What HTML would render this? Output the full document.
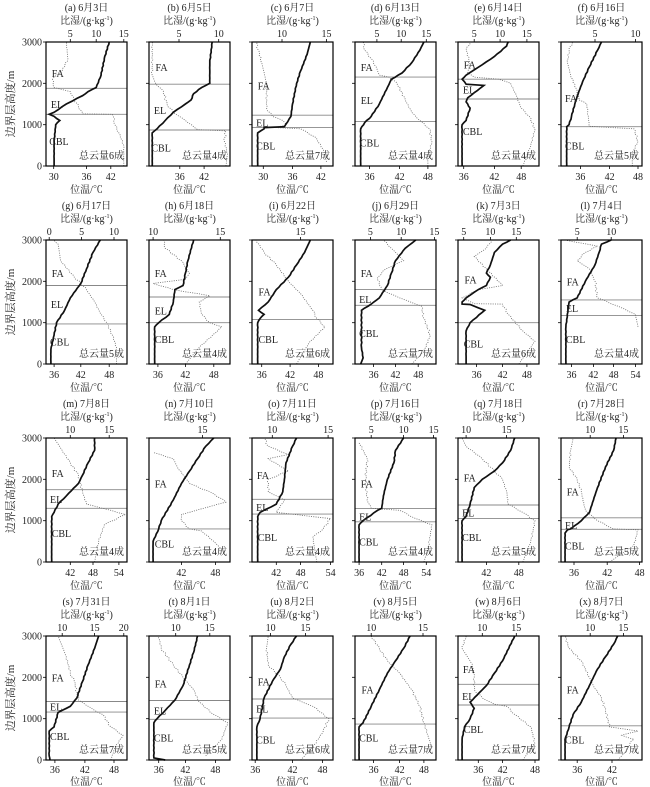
<!DOCTYPE html>
<html><head><meta charset="utf-8">
<style>
html,body{margin:0;padding:0;background:#fff;}
svg{display:block;}
text{font-family:"Liberation Serif","Noto Serif CJK SC",serif;fill:#222;}
</style></head>
<body>
<svg id="s" width="650" height="787" viewBox="0 0 650 787" xmlns="http://www.w3.org/2000/svg"></svg>
<script>
const P=[
{t:'(a) 6月3日',bt:[[0.095,30],[0.5,36],[0.8,42]],tt:[[0.3,5],[0.62,10],[0.96,15]],
th:[[0.1,0],[0.1,600],[0.12,1000],[0.17,1100],[0.1,1200],[0.04,1250],[0.1,1300],[0.25,1500],[0.45,1700],[0.52,1800],[0.62,1900],[0.68,2200],[0.72,2600],[0.78,3000]],
q:[[0.96,0],[0.96,500],[0.9,800],[0.85,1000],[0.83,1200],[0.82,1250],[0.45,1260],[0.4,1450],[0.35,1600],[0.3,1800],[0.1,1900],[0.08,2100],[0.2,2300],[0.27,2600],[0.25,3000]],
hl:[1880,1250],lb:[['FA',0.07,2250],['EL',0.06,1500],['CBL',0.04,600]],c:6},
{t:'(b) 6月5日',bt:[[0.38,36],[0.68,42]],tt:[[0.37,5],[0.86,10]],
th:[[0.04,0],[0.04,800],[0.1,900],[0.2,1100],[0.3,1300],[0.45,1500],[0.52,1600],[0.55,1750],[0.65,1900],[0.75,2000],[0.75,2500],[0.78,3000]],
q:[[0.95,0],[0.97,300],[0.93,600],[0.95,850],[0.6,880],[0.45,1100],[0.3,1300],[0.22,1500],[0.18,1800],[0.08,2000],[0.04,2200],[0.04,3000]],
hl:[1980,870],lb:[['FA',0.08,2400],['EL',0.06,1350],['CBL',0.03,450]],c:4},
{t:'(c) 6月7日',bt:[[0.14,30],[0.5,36],[0.85,42]],tt:[[0.37,10],[0.92,15]],
th:[[0.07,0],[0.07,800],[0.15,900],[0.15,930],[0.4,950],[0.48,1200],[0.5,1500],[0.55,2000],[0.6,2300],[0.68,2700],[0.72,3000]],
q:[[0.92,100],[0.88,400],[0.78,700],[0.6,900],[0.3,930],[0.42,1000],[0.38,1100],[0.25,1200],[0.18,1400],[0.18,2000],[0.12,2500],[0.08,2800],[0.05,3000]],
hl:[1230,930],lb:[['FA',0.07,1950],['EL',0.05,1050],['CBL',0.05,500]],c:7},
{t:'(d) 6月13日',bt:[[0.18,36],[0.55,42],[0.9,48]],tt:[[0.27,5],[0.57,10],[0.88,15]],
th:[[0.07,0],[0.07,900],[0.12,1050],[0.2,1200],[0.3,1500],[0.4,1900],[0.45,2100],[0.58,2250],[0.7,2500],[0.8,2800],[0.85,3000]],
q:[[0.9,0],[0.9,200],[0.95,600],[0.92,900],[0.8,1100],[0.7,1300],[0.62,1600],[0.52,2000],[0.42,2150],[0.3,2200],[0.26,2400],[0.2,2600],[0.12,2800],[0.1,3000]],
hl:[2150,1080],lb:[['FA',0.07,2400],['EL',0.07,1600],['CBL',0.06,570]],c:4},
{t:'(e) 6月14日',bt:[[0.07,36],[0.45,42],[0.78,48]],tt:[[0.2,5],[0.52,10],[0.85,15]],
th:[[0.05,0],[0.05,1000],[0.1,1100],[0.15,1400],[0.1,1550],[0.12,1650],[0.32,1950],[0.1,1980],[0.05,2100],[0.1,2200],[0.3,2450],[0.45,2650],[0.6,2900],[0.62,3000]],
q:[[0.8,0],[0.9,500],[0.95,900],[0.88,1200],[0.78,1400],[0.72,1700],[0.65,2000],[0.5,2100],[0.2,2150],[0.12,2250],[0.15,2500],[0.1,2800],[0.15,3000]],
hl:[2100,1620],lb:[['FA',0.07,2450],['EL',0.06,1850],['CBL',0.06,850]],c:4},
{t:'(f) 6月16日',bt:[[0.24,36],[0.6,42],[0.95,48]],tt:[[0.42,5],[0.92,10]],
th:[[0.07,0],[0.07,950],[0.1,1000],[0.13,1200],[0.17,1500],[0.22,1800],[0.28,2100],[0.35,2400],[0.45,2800],[0.5,3000]],
q:[[0.88,0],[0.88,300],[0.95,600],[0.9,900],[0.35,960],[0.33,1300],[0.32,1500],[0.22,1600],[0.2,1800],[0.12,2200],[0.08,2500],[0.1,2800],[0.14,3000]],
hl:[950],lb:[['FA',0.05,1650],['CBL',0.05,500]],c:5},
{t:'(g) 6月17日',bt:[[0.1,36],[0.43,42],[0.78,48]],tt:[[0.04,0],[0.44,5],[0.84,10]],
th:[[0.06,0],[0.06,350],[0.1,700],[0.13,1000],[0.23,1300],[0.3,1600],[0.43,1950],[0.5,2300],[0.58,2700],[0.67,3000]],
q:[[0.87,0],[0.87,400],[0.82,700],[0.75,1000],[0.68,1200],[0.6,1500],[0.5,1800],[0.43,1950],[0.35,2100],[0.18,2500],[0.15,2900],[0.1,3000]],
hl:[1900,970],lb:[['FA',0.07,2200],['EL',0.06,1450],['CBL',0.05,550]],c:5},
{t:'(h) 6月18日',bt:[[0.11,36],[0.45,42],[0.8,48]],tt:[[0.05,10],[0.88,15]],
th:[[0.07,0],[0.07,900],[0.12,1000],[0.25,1200],[0.3,1500],[0.32,1800],[0.42,1900],[0.45,2200],[0.48,2500],[0.55,3000]],
q:[[0.45,0],[0.62,400],[0.9,900],[0.75,1000],[0.65,1200],[0.62,1500],[0.75,1650],[0.3,1800],[0.05,1950],[0.45,2050],[0.5,2200],[0.4,2500],[0.2,2800],[0.18,3000]],
hl:[1620,1000],lb:[['FA',0.07,2200],['EL',0.07,1300],['CBL',0.07,600]],c:4},
{t:'(i) 6月22日',bt:[[0.12,36],[0.47,42],[0.82,48]],tt:[[0.6,15]],
th:[[0.07,0],[0.07,1000],[0.1,1100],[0.15,1200],[0.08,1300],[0.2,1500],[0.3,1800],[0.45,2100],[0.55,2400],[0.65,2700],[0.72,3000]],
q:[[0.55,0],[0.7,500],[0.9,900],[0.8,1100],[0.75,1300],[0.6,1700],[0.45,2000],[0.3,2400],[0.15,2700],[0.05,3000]],
hl:[1080],lb:[['FA',0.08,1750],['CBL',0.08,600]],c:6},
{t:'(j) 6月29日',bt:[[0.23,36],[0.5,42],[0.78,48]],tt:[[0.19,5],[0.57,10],[0.98,15]],
th:[[0.07,0],[0.1,150],[0.08,400],[0.08,1300],[0.2,1450],[0.3,1600],[0.4,1900],[0.45,2200],[0.5,2500],[0.62,2800],[0.75,3000]],
q:[[0.7,0],[0.85,300],[0.93,700],[0.85,1100],[0.82,1400],[0.55,1600],[0.32,1800],[0.28,2100],[0.38,2300],[0.6,2500],[0.45,2800],[0.35,3000]],
hl:[1800,1420],lb:[['FA',0.07,2200],['EL',0.05,1570],['CBL',0.05,750]],c:7},
{t:'(k) 7月3日',bt:[[0.23,36],[0.55,42],[0.85,48]],tt:[[0.07,5],[0.4,10],[0.72,15]],
th:[[0.1,0],[0.1,800],[0.15,1000],[0.3,1250],[0.33,1300],[0.15,1440],[0.05,1450],[0.05,1500],[0.1,1600],[0.25,1800],[0.35,1900],[0.4,2100],[0.35,2200],[0.4,2400],[0.45,2700],[0.55,2900],[0.65,3000]],
q:[[0.75,0],[0.95,550],[0.8,800],[0.62,1200],[0.55,1450],[0.2,1460],[0.05,1600],[0.25,1800],[0.55,1900],[0.2,2600],[0.35,2800],[0.42,3000]],
hl:[1000],lb:[['FA',0.08,2050],['CBL',0.07,500]],c:6},
{t:'(l) 7月4日',bt:[[0.13,36],[0.4,42],[0.65,48],[0.92,54]],tt:[[0.2,5],[0.62,10]],
th:[[0.06,0],[0.06,900],[0.1,1500],[0.2,1600],[0.3,2000],[0.42,2400],[0.47,2700],[0.5,2900],[0.62,3000]],
q:[[0.95,900],[0.92,1200],[0.7,1400],[0.45,1600],[0.42,2000],[0.35,2300],[0.2,2500],[0.3,2700],[0.45,2850],[0.05,3000]],
hl:[1550,1170],lb:[['FA',0.07,2000],['EL',0.06,1350],['CBL',0.06,600]],c:4},
{t:'(m) 7月8日',bt:[[0.3,42],[0.58,48],[0.9,54]],tt:[[0.3,10],[0.78,15]],
th:[[0.07,0],[0.07,1100],[0.1,1200],[0.15,1400],[0.25,1600],[0.4,1900],[0.45,2100],[0.52,2400],[0.6,2700],[0.6,3000]],
q:[[0.6,0],[0.65,500],[0.72,900],[0.98,1150],[0.8,1250],[0.5,1400],[0.45,1700],[0.4,2100],[0.3,2400],[0.2,2700],[0.1,3000]],
hl:[1750,1300],lb:[['FA',0.07,2150],['EL',0.05,1520],['CBL',0.07,700]],c:4},
{t:'(n) 7月10日',bt:[[0.4,42],[0.82,48]],tt:[[0.66,15]],
th:[[0.05,0],[0.05,500],[0.12,800],[0.15,1000],[0.3,1500],[0.4,1900],[0.5,2200],[0.6,2500],[0.7,2800],[0.8,3000]],
q:[[0.9,300],[0.8,500],[0.65,750],[0.5,800],[0.4,1000],[0.4,1150],[0.95,1450],[0.8,1650],[0.5,1900],[0.35,2300],[0.3,2500],[0.05,2650]],
hl:[800],lb:[['FA',0.07,1900],['CBL',0.07,450]],c:4},
{t:'(o) 7月11日',bt:[[0.3,42],[0.6,48],[0.97,54]],tt:[[0.25,10],[0.94,15]],
th:[[0.07,0],[0.07,1100],[0.1,1200],[0.3,1400],[0.38,1700],[0.4,2000],[0.42,2400],[0.5,2800],[0.55,3000]],
q:[[0.8,0],[0.75,600],[0.88,800],[0.97,1050],[0.3,1200],[0.4,1500],[0.2,1700],[0.2,2000],[0.45,2200],[0.2,2500],[0.45,2600],[0.2,2800],[0.15,3000]],
hl:[1516,1160],lb:[['FA',0.06,2100],['EL',0.05,1330],['CBL',0.07,600]],c:4},
{t:'(p) 7月16日',bt:[[0.05,36],[0.33,42],[0.6,48],[0.88,54]],tt:[[0.2,5],[0.6,10],[0.97,15]],
th:[[0.05,0],[0.05,900],[0.1,1000],[0.28,1250],[0.33,1300],[0.35,1600],[0.4,2000],[0.48,2400],[0.5,2700],[0.6,3000]],
q:[[0.85,0],[0.9,300],[0.95,900],[0.75,1050],[0.55,1250],[0.2,1300],[0.15,1500],[0.13,2000],[0.15,2500],[0.05,2900]],
hl:[1297,973],lb:[['FA',0.07,1900],['EL',0.05,1100],['CBL',0.05,500]],c:4},
{t:'(q) 7月18日',bt:[[0.35,42],[0.75,48]],tt:[[0.1,10],[0.6,15]],
th:[[0.05,0],[0.05,1000],[0.1,1100],[0.15,1400],[0.2,1800],[0.3,2000],[0.45,2200],[0.55,2400],[0.65,2700],[0.7,3000]],
q:[[0.8,0],[0.9,500],[0.95,1000],[0.8,1200],[0.62,1400],[0.6,1700],[0.55,2000],[0.45,2200],[0.3,2500],[0.1,2800],[0.05,3000]],
hl:[1378,1054],lb:[['FA',0.07,2050],['EL',0.05,1200],['CBL',0.05,600]],c:5},
{t:'(r) 7月28日',bt:[[0.16,36],[0.57,42],[0.97,48]],tt:[[0.36,10],[0.77,15]],
th:[[0.05,0],[0.05,700],[0.08,780],[0.12,800],[0.25,1000],[0.35,1200],[0.45,1800],[0.55,2300],[0.65,2700],[0.68,3000]],
q:[[0.6,0],[0.9,400],[0.95,780],[0.65,800],[0.45,1000],[0.3,1250],[0.25,1700],[0.2,2000],[0.1,2300],[0.12,2700],[0.15,3000]],
hl:[1070,790],lb:[['FA',0.07,1700],['EL',0.05,900],['CBL',0.05,400]],c:5},
{t:'(s) 7月31日',bt:[[0.11,36],[0.48,42],[0.84,48]],tt:[[0.2,10],[0.6,15],[0.96,20]],
th:[[0.05,0],[0.04,100],[0.04,700],[0.1,800],[0.15,1150],[0.3,1300],[0.38,1500],[0.45,1900],[0.52,2300],[0.6,2700],[0.65,3000]],
q:[[0.8,0],[0.85,300],[0.95,600],[0.8,800],[0.7,1100],[0.6,1200],[0.4,1450],[0.35,1900],[0.3,2100],[0.25,2500],[0.15,3000]],
hl:[1416,1160],lb:[['FA',0.07,2000],['EL',0.05,1300],['CBL',0.05,580]],c:7},
{t:'(t) 8月1日',bt:[[0.12,36],[0.45,42],[0.82,48]],tt:[[0.33,10],[0.75,15]],
th:[[0.2,0],[0.06,50],[0.06,900],[0.1,1000],[0.2,1200],[0.32,1450],[0.42,1800],[0.5,2300],[0.55,2600],[0.6,3000]],
q:[[0.7,100],[0.9,500],[0.97,900],[0.8,1100],[0.62,1400],[0.55,1700],[0.42,2000],[0.3,2300],[0.15,2700],[0.12,3000]],
hl:[1440,985],lb:[['FA',0.07,1850],['EL',0.06,1200],['CBL',0.06,550]],c:5},
{t:'(u) 8月2日',bt:[[0.04,36],[0.5,42],[0.87,48]],tt:[[0.23,10],[0.66,15]],
th:[[0.06,0],[0.06,800],[0.1,1000],[0.15,1500],[0.25,1900],[0.35,2200],[0.4,2500],[0.48,2800],[0.55,3000]],
q:[[0.6,0],[0.75,300],[0.88,700],[0.95,1000],[0.75,1300],[0.5,1500],[0.42,1800],[0.35,2000],[0.2,2300],[0.18,2700],[0.2,3000]],
hl:[1476,1014],lb:[['FA',0.07,1900],['EL',0.05,1250],['CBL',0.05,500]],c:6},
{t:'(v) 8月5日',bt:[[0.23,36],[0.55,42],[0.85,48]],tt:[[0.2,10],[0.84,15]],
th:[[0.05,0],[0.05,800],[0.1,900],[0.2,1300],[0.3,1700],[0.4,2100],[0.5,2400],[0.6,2700],[0.68,3000]],
q:[[0.95,300],[0.9,600],[0.85,900],[0.8,1300],[0.7,1700],[0.55,2100],[0.4,2400],[0.3,2700],[0.2,3000]],
hl:[868],lb:[['FA',0.08,1700],['CBL',0.05,550]],c:7},
{t:'(w) 8月6日',bt:[[0.25,36],[0.55,42],[0.95,48]],tt:[[0.3,10],[0.72,15]],
th:[[0.05,0],[0.05,500],[0.08,800],[0.15,1000],[0.2,1250],[0.15,1400],[0.35,1800],[0.45,2100],[0.55,2400],[0.7,3000]],
q:[[0.8,0],[0.95,400],[0.9,800],[0.7,1100],[0.6,1300],[0.45,1350],[0.3,1500],[0.2,1700],[0.2,2000],[0.18,2300],[0.05,2700],[0.1,3000]],
hl:[1832,1330],lb:[['FA',0.06,2200],['EL',0.05,1550],['CBL',0.07,750]],c:7},
{t:'(x) 8月7日',bt:[[0.2,36],[0.63,42]],tt:[[0.36,10],[0.77,15]],
th:[[0.05,0],[0.05,500],[0.1,800],[0.15,1100],[0.25,1400],[0.35,1800],[0.45,2200],[0.55,2500],[0.65,2800],[0.7,3000]],
q:[[0.7,0],[0.8,200],[0.85,400],[0.9,500],[0.75,600],[0.95,700],[0.6,800],[0.55,1200],[0.5,1500],[0.4,1800],[0.35,2000],[0.25,2400],[0.1,2700],[0.05,3000]],
hl:[827],lb:[['FA',0.07,1700],['CBL',0.05,500]],c:7}
];
const tops=[42,240,438,636],W=81,H=124;
let s='';
function jit(pts,amp){
  let out=[];for(let i=0;i<pts.length-1;i++){const[a,b]=[pts[i],pts[i+1]];const n=Math.max(1,Math.round(Math.abs(b[1]-a[1])/60));
  for(let k=0;k<n;k++){const t=k/n;out.push([a[0]+(b[0]-a[0])*t+(k?(Math.sin(i*7+k*3.1)*amp):0),a[1]+(b[1]-a[1])*t]);}}
  out.push(pts[pts.length-1]);return out;}
P.forEach((p,i)=>{
  const r=Math.floor(i/6),c=i%6,L=46+103*c,T=tops[r];
  const X=f=>(L+f*W).toFixed(1),Y=h=>(T+H-h/3000*H).toFixed(1);
  const cx=L+W/2;
  const tb=r==3?13:14, xb=r==3?25:27;
  s+=`<text x="${cx}" y="${T-31}" font-size="10" text-anchor="middle">${p.t}</text>`;
  s+=`<text x="${cx}" y="${T-18}" font-size="10" text-anchor="middle">比湿/(g·kg<tspan font-size="6" dy="-4">-1</tspan><tspan dy="4">)</tspan></text>`;
  p.tt.forEach(t=>{s+=`<text x="${X(t[0])}" y="${T-5}" font-size="10" text-anchor="middle">${t[1]}</text><line x1="${X(t[0])}" x2="${X(t[0])}" y1="${T}" y2="${T-3}" stroke="#000" stroke-width="0.8"/>`;});
  p.bt.forEach(t=>{s+=`<text x="${X(t[0])}" y="${T+H+tb}" font-size="10" text-anchor="middle">${t[1]}</text><line x1="${X(t[0])}" x2="${X(t[0])}" y1="${T+H}" y2="${T+H+3}" stroke="#000" stroke-width="0.8"/>`;});
  s+=`<text x="${cx}" y="${T+H+xb}" font-size="10" text-anchor="middle">位温/℃</text>`;
  [0,1000,2000,3000].forEach(h=>{s+=`<line x1="${L-3}" x2="${L}" y1="${Y(h)}" y2="${Y(h)}" stroke="#000" stroke-width="0.8"/>`;
    if(c==0)s+=`<text x="${L-4}" y="${+Y(h)+3.5}" font-size="10" text-anchor="end">${h}</text>`;});
  p.hl.forEach(h=>{s+=`<line x1="${L}" x2="${L+W}" y1="${Y(h)}" y2="${Y(h)}" stroke="#888" stroke-width="0.9"/>`;});
  s+=`<polyline points="${jit(p.q,0.012).map(q=>X(q[0])+','+Y(q[1])).join(' ')}" fill="none" stroke="#666" stroke-width="0.8" stroke-dasharray="1,1.3"/>`;
  s+=`<polyline points="${jit(p.th,0.004).map(q=>X(q[0])+','+Y(q[1])).join(' ')}" fill="none" stroke="#111" stroke-width="1.7"/>`;
  p.lb.forEach(l=>{s+=`<text x="${X(l[1])}" y="${+Y(l[2])+4}" font-size="10" fill="#333">${l[0]}</text>`;});
  s+=`<text x="${L+W-3}" y="${T+H-7}" font-size="10" text-anchor="end">总云量${p.c}成</text>`;
  s+=`<rect x="${L}" y="${T}" width="${W}" height="${H}" fill="none" stroke="#000" stroke-width="1.2"/>`;
  if(c==0)s+=`<text transform="translate(14,${T+H/2}) rotate(-90)" font-size="11" text-anchor="middle">边界层高度/m</text>`;
});
document.getElementById('s').innerHTML=s;
</script>
</body></html>
